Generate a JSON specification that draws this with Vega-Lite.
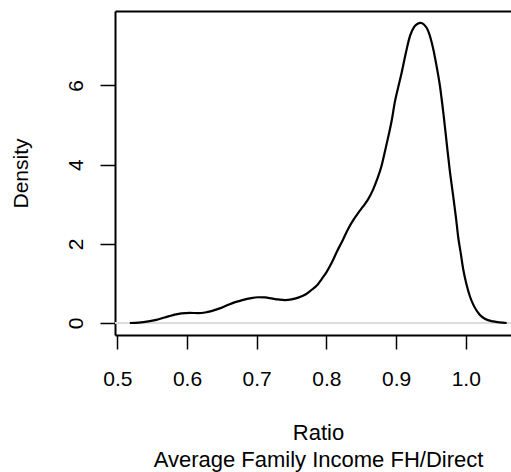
{
  "$schema": "https://vega.github.io/schema/vega-lite/v6.json",
  "autosize": {"type": "none"},
  "padding": {"left": 115, "top": 11, "right": 0, "bottom": 137},
  "width": 396,
  "height": 324,
  "background": "white",
  "config": {
    "view": {"stroke": null},
    "axis": {
      "grid": false,
      "labelFont": "Liberation Sans",
      "labelFontSize": 21,
      "labelColor": "black",
      "titleFont": "Liberation Sans",
      "titleFontSize": 21,
      "titleFontWeight": "normal",
      "titleColor": "black",
      "tickColor": "black",
      "domainColor": "black",
      "tickWidth": 1.5,
      "domainWidth": 2,
      "labelFlush": false,
      "labelOverlap": false
    }
  },
  "data": {
    "values": [
      {"ratio": 0.518, "density": 0},
      {"ratio": 0.531, "density": 0.01},
      {"ratio": 0.5445, "density": 0.04},
      {"ratio": 0.556, "density": 0.08},
      {"ratio": 0.568, "density": 0.14},
      {"ratio": 0.58, "density": 0.2},
      {"ratio": 0.592, "density": 0.245},
      {"ratio": 0.604, "density": 0.255},
      {"ratio": 0.616, "density": 0.25},
      {"ratio": 0.626, "density": 0.265},
      {"ratio": 0.635, "density": 0.3},
      {"ratio": 0.647, "density": 0.37},
      {"ratio": 0.659, "density": 0.46},
      {"ratio": 0.668, "density": 0.52},
      {"ratio": 0.678, "density": 0.57},
      {"ratio": 0.69, "density": 0.62},
      {"ratio": 0.702, "density": 0.65},
      {"ratio": 0.712, "density": 0.645},
      {"ratio": 0.7215, "density": 0.62},
      {"ratio": 0.731, "density": 0.595},
      {"ratio": 0.7406, "density": 0.58},
      {"ratio": 0.75, "density": 0.595},
      {"ratio": 0.7597, "density": 0.64},
      {"ratio": 0.77, "density": 0.72},
      {"ratio": 0.779, "density": 0.84},
      {"ratio": 0.787, "density": 0.96},
      {"ratio": 0.7933, "density": 1.11},
      {"ratio": 0.8, "density": 1.28},
      {"ratio": 0.8076, "density": 1.52},
      {"ratio": 0.815, "density": 1.8},
      {"ratio": 0.824, "density": 2.11},
      {"ratio": 0.831, "density": 2.37},
      {"ratio": 0.839, "density": 2.61},
      {"ratio": 0.846, "density": 2.79},
      {"ratio": 0.853, "density": 2.95},
      {"ratio": 0.86, "density": 3.13},
      {"ratio": 0.867, "density": 3.37},
      {"ratio": 0.873, "density": 3.64},
      {"ratio": 0.879, "density": 3.96},
      {"ratio": 0.884, "density": 4.33},
      {"ratio": 0.889, "density": 4.72},
      {"ratio": 0.894, "density": 5.14},
      {"ratio": 0.898, "density": 5.56},
      {"ratio": 0.903, "density": 5.95},
      {"ratio": 0.908, "density": 6.32},
      {"ratio": 0.914, "density": 6.82},
      {"ratio": 0.92, "density": 7.25},
      {"ratio": 0.926, "density": 7.48},
      {"ratio": 0.931, "density": 7.56},
      {"ratio": 0.935, "density": 7.58},
      {"ratio": 0.94, "density": 7.54},
      {"ratio": 0.946, "density": 7.38},
      {"ratio": 0.9535, "density": 6.91},
      {"ratio": 0.958, "density": 6.5},
      {"ratio": 0.963, "density": 5.98},
      {"ratio": 0.968, "density": 5.28},
      {"ratio": 0.9726, "density": 4.55},
      {"ratio": 0.977, "density": 3.86},
      {"ratio": 0.982, "density": 3.2},
      {"ratio": 0.986, "density": 2.65},
      {"ratio": 0.989, "density": 2.19},
      {"ratio": 0.993, "density": 1.74},
      {"ratio": 0.9964, "density": 1.35},
      {"ratio": 1.001, "density": 0.98},
      {"ratio": 1.006, "density": 0.67},
      {"ratio": 1.012, "density": 0.42},
      {"ratio": 1.02, "density": 0.21},
      {"ratio": 1.028, "density": 0.1},
      {"ratio": 1.0395, "density": 0.04},
      {"ratio": 1.048, "density": 0.015},
      {"ratio": 1.0587, "density": 0}
    ]
  },
  "layer": [
    {
      "mark": {"type": "rule", "color": "#dcdcdc", "strokeWidth": 1},
      "encoding": {
        "y": {"datum": 0, "type": "quantitative", "scale": {"domain": [-0.303, 7.88], "nice": false, "zero": false}, "axis": {
          "orient": "left",
          "values": [0, 2, 4, 6],
          "tickSize": 15,
          "labelFont": "Liberation Sans",
          "labelFontSize": 21,
          "labelAngle": 270,
          "labelAlign": "center",
          "labelBaseline": "alphabetic",
          "labelPadding": 18,
          "title": "Density",
          "titleFont": "Liberation Sans",
          "titleFontSize": 21,
          "titleAngle": 270,
          "titleAlign": "center",
          "titleBaseline": "alphabetic",
          "titleX": -88,
          "titleY": 162
        }}
      }
    },
    {
      "mark": {"type": "line", "color": "black", "strokeWidth": 2.2, "interpolate": "monotone"},
      "encoding": {
        "x": {"field": "ratio", "type": "quantitative", "scale": {"domain": [0.4967, 1.0649], "nice": false, "zero": false}, "axis": {
          "orient": "bottom",
          "values": [0.5, 0.6, 0.7, 0.8, 0.9, 1.0],
          "format": ".1f",
          "tickSize": 14,
          "labelFont": "Liberation Sans",
          "labelFontSize": 21,
          "labelPadding": 19,
          "labelBaseline": "top",
          "title": ["Ratio", "Average Family Income FH/Direct"],
          "titleFont": "Liberation Sans",
          "titleFontSize": 22,
          "titleLineHeight": 27,
          "titleAlign": "center",
          "titleBaseline": "alphabetic",
          "titleX": 203,
          "titleY": 104
        }},
        "y": {"field": "density", "type": "quantitative", "scale": {"domain": [-0.303, 7.88], "nice": false, "zero": false}, "axis": {
          "orient": "left",
          "values": [0, 2, 4, 6],
          "tickSize": 15,
          "labelFont": "Liberation Sans",
          "labelFontSize": 21,
          "labelAngle": 270,
          "labelAlign": "center",
          "labelBaseline": "alphabetic",
          "labelPadding": 18,
          "title": "Density",
          "titleFont": "Liberation Sans",
          "titleFontSize": 21,
          "titleAngle": 270,
          "titleAlign": "center",
          "titleBaseline": "alphabetic",
          "titleX": -88,
          "titleY": 162
        }}
      }
    },
    {
      "mark": {"type": "line", "strokeOpacity": 0},
      "encoding": {
        "x": {"field": "ratio", "type": "quantitative", "axis": {
          "orient": "top",
          "labels": false,
          "ticks": false,
          "title": null,
          "domain": true
        }},
        "y": {"field": "density", "type": "quantitative", "axis": {
          "orient": "left",
          "values": [0, 2, 4, 6],
          "tickSize": 15,
          "labelFont": "Liberation Sans",
          "labelFontSize": 21,
          "labelAngle": 270,
          "labelAlign": "center",
          "labelBaseline": "alphabetic",
          "labelPadding": 18,
          "title": "Density",
          "titleFont": "Liberation Sans",
          "titleFontSize": 21,
          "titleAngle": 270,
          "titleAlign": "center",
          "titleBaseline": "alphabetic",
          "titleX": -88,
          "titleY": 162
        }}
      }
    }
  ],
  "resolve": {"axis": {"x": "independent"}}
}
